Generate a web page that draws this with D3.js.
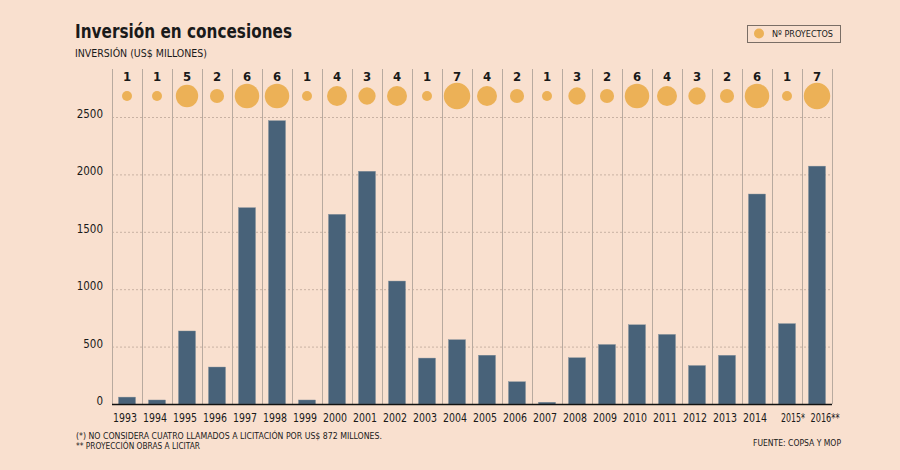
<!DOCTYPE html>
<html>
<head>
<meta charset="utf-8">
<script src="https://cdn.jsdelivr.net/npm/d3@7"></script>
<style>
  html, body { margin: 0; padding: 0; background: #f9e0cf; }
  svg { display: block; }
  text { font-family: "DejaVu Sans Condensed", "DejaVu Sans", sans-serif; fill: #1a1a1a; }
</style>
</head>
<body>
<svg id="chart" width="900" height="470"></svg>
<script>
const years = ["1993","1994","1995","1996","1997","1998","1999","2000","2001","2002","2003","2004","2005","2006","2007","2008","2009","2010","2011","2012","2013","2014","2015*","2016**"];
const investment = [60, 35, 636, 322, 1710, 2468, 35, 1652, 2027, 1071, 400, 560, 425, 194, 15, 403, 518, 690, 606, 335, 424, 1829, 700, 2072];
const projects = [1, 1, 5, 2, 6, 6, 1, 4, 3, 4, 1, 7, 4, 2, 1, 3, 2, 6, 4, 3, 2, 6, 1, 7];
const yTicks = [0, 500, 1000, 1500, 2000, 2500];

const title = "Inversión en concesiones";
const subtitle = "INVERSIÓN (US$ MILLONES)";
const legendLabel = "Nº PROYECTOS";
const notes = ["(*) NO CONSIDERA CUATRO LLAMADOS A LICITACIÓN POR US$ 872 MILLONES.", "** PROYECCIÓN OBRAS A LICITAR"];
const source = "FUENTE: COPSA Y MOP";

const svg = d3.select("#chart");
const W = 900, H = 470;
svg.append("rect").attr("width", W).attr("height", H).attr("fill", "#f9e0cf");

const left = 112, right = 832, bottom = 404;
const x = d3.scaleBand().domain(years).range([left, right]).paddingInner(0).paddingOuter(0);
const y = d3.scaleLinear().domain([0, 2500]).range([bottom, 117]);
const r = d3.scaleSqrt().domain([0, 1]).range([0, 5]);

// horizontal dashed grid
svg.append("g").selectAll("line").data(yTicks.filter(d => d > 0)).join("line")
  .attr("x1", left).attr("x2", right)
  .attr("y1", d => y(d) + 0.5).attr("y2", d => y(d) + 0.5)
  .attr("stroke", "#c9b2a3").attr("stroke-width", 1).attr("stroke-dasharray", "2,2");

// vertical separators
const seps = years.map(d => x(d)).concat([right]);
svg.append("g").selectAll("line").data(seps).join("line")
  .attr("x1", d => d + 0.5).attr("x2", d => d + 0.5)
  .attr("y1", 69).attr("y2", bottom)
  .attr("stroke", "#b8aa9f").attr("stroke-width", 1);

// y tick labels
svg.append("g").selectAll("text").data(yTicks).join("text")
  .attr("x", 103).attr("y", d => y(d) + 1)
  .attr("text-anchor", "end").attr("font-size", 11.5)
  .text(d => d);

// bars
const bw = 17;
svg.append("g").selectAll("rect").data(investment).join("rect")
  .attr("x", (d, i) => x(years[i]) + x.bandwidth() / 2 - bw / 2)
  .attr("width", bw)
  .attr("y", d => y(d))
  .attr("height", d => bottom - y(d))
  .attr("fill", "#486279")
  .attr("stroke", "#7f8e99").attr("stroke-width", 0.4);

// x axis line
svg.append("line").attr("x1", left).attr("x2", right).attr("y1", bottom + 0.5).attr("y2", bottom + 0.5)
  .attr("stroke", "#111").attr("stroke-width", 1.3);

// year labels
const yearLen = d => d.length === 4 ? 24 : (d.length === 5 ? 24 : 29);
const yearShift = d => d.length === 4 ? -2 : (d.length === 5 ? 6 : 8);
svg.append("g").selectAll("text").data(years).join("text")
  .attr("x", d => x(d) + x.bandwidth() / 2 + yearShift(d))
  .attr("y", 422)
  .attr("text-anchor", "middle").attr("font-size", 11.5)
  .attr("textLength", d => yearLen(d)).attr("lengthAdjust", "spacingAndGlyphs")
  .text(d => d);

// bubbles
svg.append("g").selectAll("circle").data(projects).join("circle")
  .attr("cx", (d, i) => x(years[i]) + x.bandwidth() / 2)
  .attr("cy", 96)
  .attr("r", d => r(d))
  .attr("fill", "#ecb157");

// project count labels
svg.append("g").selectAll("text").data(projects).join("text")
  .attr("x", (d, i) => x(years[i]) + x.bandwidth() / 2)
  .attr("y", 81)
  .attr("text-anchor", "middle").attr("font-size", 13).attr("font-weight", "bold")
  .text(d => d);

// title
svg.append("text").attr("x", 75).attr("y", 38).attr("font-size", 20).attr("font-weight", "bold")
  .attr("textLength", 217).attr("lengthAdjust", "spacingAndGlyphs").text(title);
svg.append("text").attr("x", 75).attr("y", 57).attr("font-size", 10.5)
  .attr("textLength", 132).attr("lengthAdjust", "spacingAndGlyphs").text(subtitle);

// legend
svg.append("rect").attr("x", 747.5).attr("y", 25.5).attr("width", 93).attr("height", 17)
  .attr("fill", "none").attr("stroke", "#7a6e66").attr("stroke-width", 1);
svg.append("circle").attr("cx", 759).attr("cy", 33.5).attr("r", 5).attr("fill", "#ecb157");
svg.append("text").attr("x", 772).attr("y", 37).attr("font-size", 9.5)
  .attr("textLength", 61).attr("lengthAdjust", "spacingAndGlyphs").text(legendLabel);

// notes
svg.append("text").attr("x", 76).attr("y", 438.5).attr("font-size", 8.5)
  .attr("textLength", 306).attr("lengthAdjust", "spacingAndGlyphs").text(notes[0]);
svg.append("text").attr("x", 76).attr("y", 448.5).attr("font-size", 8.5)
  .attr("textLength", 124).attr("lengthAdjust", "spacingAndGlyphs").text(notes[1]);
svg.append("text").attr("x", 753).attr("y", 446).attr("font-size", 9.5)
  .attr("textLength", 88).attr("lengthAdjust", "spacingAndGlyphs").text(source);
</script>
</body>
</html>
